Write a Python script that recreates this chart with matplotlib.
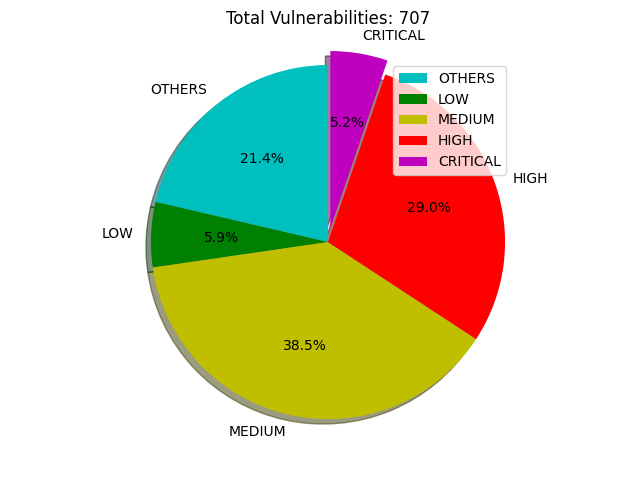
import matplotlib
matplotlib.use('Agg')
import matplotlib.pyplot as plt

# Vulnerability counts by severity
labels = ['OTHERS', 'LOW', 'MEDIUM', 'HIGH', 'CRITICAL']
counts = [151, 42, 272, 205, 37]
colors = ['c', 'g', 'y', 'r', 'm']
explode = (0, 0, 0, 0, 0.08)  # pull out the critical slice

total = sum(counts)

fig = plt.figure(figsize=(6.4, 4.8), dpi=100)
plt.subplots_adjust(top=0.932, bottom=0.0885)
plt.pie(counts, labels=labels, colors=colors, explode=explode,
        autopct='%1.1f%%', shadow=True, startangle=90)
plt.axis('equal')
plt.title('Total Vulnerabilities: %d' % total)
plt.legend(loc='upper right', bbox_to_anchor=(0.791, 0.8625),
           bbox_transform=fig.transFigure, borderaxespad=0)

plt.savefig('out.png')
